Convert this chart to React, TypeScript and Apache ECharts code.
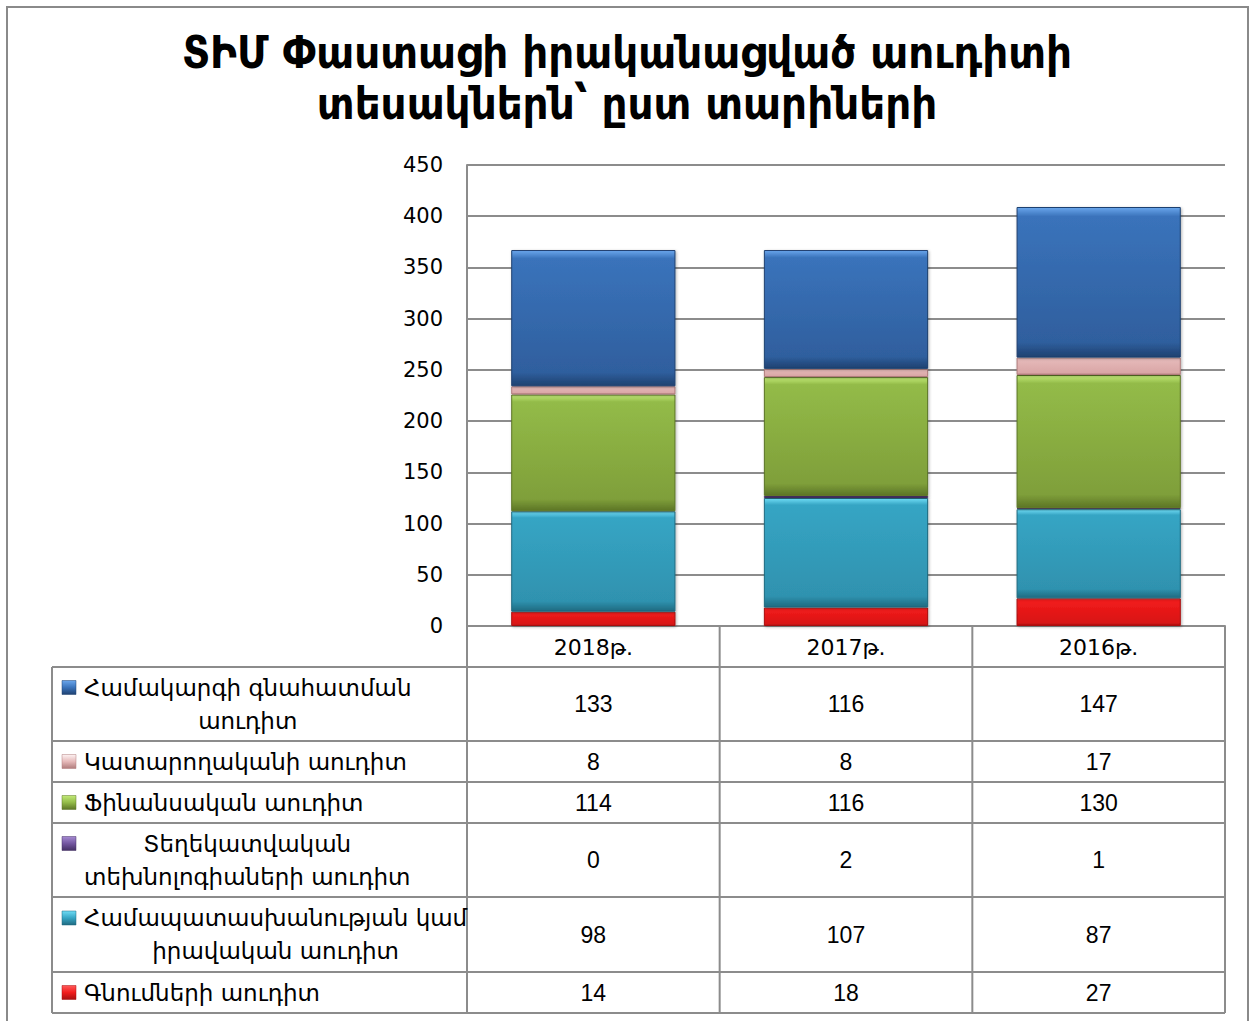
import React, { useEffect, useRef } from 'react';
import * as echarts from 'echarts';

// ---- data ----
const categories = ['2018թ.', '2017թ.', '2016թ.'];
const titleLines = ['ՏԻՄ Փաստացի իրականացված աուդիտի', 'տեսակներն՝ ըստ տարիների'];
const yMin = 0;
const yMax = 450;
const yStep = 50;

// stacked bottom -> top
const procurementName = ['Գնումների աուդիտ'];
const procurement = [14, 18, 27];
const complianceName = ['Համապատասխանության կամ', 'իրավական աուդիտ'];
const compliance = [98, 107, 87];
const itName = ['Տեղեկատվական', 'տեխնոլոգիաների աուդիտ'];
const itAudit = [0, 2, 1];
const financialName = ['Ֆինանսական աուդիտ'];
const financial = [114, 116, 130];
const performanceName = ['Կատարողականի աուդիտ'];
const performance = [8, 8, 17];
const systemName = ['Համակարգի գնահատման', 'աուդիտ'];
const systemEval = [133, 116, 147];

const seriesDefs = [
  { lines: procurementName, data: procurement, c: ['#ff5a5a', '#f21c1c', '#d81414', '#a80f0f'] },
  { lines: complianceName, data: compliance, c: ['#6fdcf5', '#36a5c4', '#2f92af', '#1f6a80'] },
  { lines: itName, data: itAudit, c: ['#a58ad2', '#7356a0', '#634a8c', '#443064'] },
  { lines: financialName, data: financial, c: ['#c2ea78', '#93bb48', '#7f9f3a', '#5c7526'] },
  { lines: performanceName, data: performance, c: ['#fdf3f3', '#e6baba', '#d9a6a6', '#b07c7c'] },
  { lines: systemName, data: systemEval, c: ['#6aa6ec', '#3a73bb', '#2f5f9e', '#1f4170'] },
];

// ---- layout ----
const W = 1254;
const H = 1021;
const gridLeft = 467;
const gridRight = 1225;
const gridTop = 165;
const axisY = 626;
const headerBottom = 667;
const tableLeft = 52;
const rowEdges = [667, 741, 782, 823, 897, 972, 1013];
const lineColor = '#8c8c8c';
const labelFont = '"DejaVu Sans", sans-serif';
const labelSize = 23;
const numFont = '"Liberation Sans Narrow", "Liberation Sans", sans-serif';

function grad(c: string[]) {
  return {
    type: 'linear', x: 0, y: 0, x2: 0, y2: 1,
    colorStops: [
      { offset: 0, color: c[0] },
      { offset: 0.06, color: c[1] },
      { offset: 0.9, color: c[2] },
      { offset: 1, color: c[3] },
    ],
  };
}

export default function App() {
  const ref = useRef<HTMLDivElement>(null);
  useEffect(() => {
    document.body.style.margin = '0';
    if (!ref.current) return;
    const chart = echarts.init(ref.current, undefined, { renderer: 'svg' });

    const canvas = document.createElement('canvas');
    const ctx = canvas.getContext('2d')!;
    ctx.font = `${labelSize}px ${labelFont}`;

    const colW = (gridRight - gridLeft) / categories.length;
    const graphics: any[] = [];
    // outer frame
    graphics.push({
      type: 'rect', shape: { x: 7, y: 7, width: 1241, height: 1040 },
      style: { fill: 'none', stroke: '#8a8a8a', lineWidth: 2 }, z: 1,
    });
    const ln = (x1: number, y1: number, x2: number, y2: number) => graphics.push({
      type: 'line', shape: { x1, y1, x2, y2 },
      style: { stroke: lineColor, lineWidth: 2 }, z: 5,
    });
    for (let i = 0; i <= categories.length; i++) {
      const x = gridLeft + i * colW;
      ln(x, axisY, x, rowEdges[rowEdges.length - 1]);
    }
    ln(tableLeft, headerBottom, tableLeft, rowEdges[rowEdges.length - 1]);
    rowEdges.forEach((y) => ln(tableLeft, y, gridRight, y));

    const rows = [...seriesDefs].reverse();
    rows.forEach((s, r) => {
      const y0 = rowEdges[r];
      const y1 = rowEdges[r + 1];
      const cy = (y0 + y1) / 2;
      const lh = 33;
      const firstY = cy - ((s.lines.length - 1) * lh) / 2;
      graphics.push({
        type: 'rect', shape: { x: 62, y: firstY - 7, width: 14, height: 14 },
        style: {
          fill: {
            type: 'linear', x: 0, y: 0, x2: 0, y2: 1,
            colorStops: [
              { offset: 0, color: s.c[0] },
              { offset: 0.5, color: s.c[1] },
              { offset: 1, color: s.c[3] },
            ],
          },
          stroke: s.c[3], lineWidth: 0.5,
        }, z: 6,
      });
      const maxW = Math.max(...s.lines.map((l) => ctx.measureText(l).width));
      graphics.push({
        type: 'text', x: 84 + maxW / 2, y: cy, z: 6,
        style: {
          text: s.lines.join('\n'), align: 'center', verticalAlign: 'middle',
          font: `${labelSize}px ${labelFont}`, lineHeight: lh, fill: '#000',
        },
      });
      s.data.forEach((v, i) => {
        graphics.push({
          type: 'text', x: gridLeft + (i + 0.5) * colW, y: cy, z: 6,
          style: {
            text: String(v), align: 'center', verticalAlign: 'middle',
            font: `23px ${numFont}`, fill: '#000',
          },
        });
      });
    });

    const option: any = {
      animation: false,
      backgroundColor: '#fff',
      title: {
        text: titleLines.join('\n'),
        left: 'center', top: 22,
        textStyle: {
          fontFamily: '"DejaVu Sans Condensed", "DejaVu Sans", sans-serif',
          fontWeight: 'bold', fontSize: 45, lineHeight: 51, color: '#000',
        },
      },
      grid: { left: gridLeft, right: W - gridRight, top: gridTop, bottom: H - axisY },
      xAxis: {
        type: 'category', data: categories,
        axisLine: { lineStyle: { color: lineColor, width: 2 } },
        axisTick: { show: false },
        axisLabel: { fontFamily: labelFont, fontSize: 22, color: '#000', margin: 10 },
      },
      yAxis: {
        type: 'value', min: yMin, max: yMax, interval: yStep,
        axisLine: { show: true, lineStyle: { color: lineColor, width: 2 } },
        axisTick: { show: false },
        splitLine: { lineStyle: { color: lineColor, width: 2 } },
        axisLabel: { fontFamily: labelFont, fontSize: 21, color: '#000', margin: 24 },
      },
      series: seriesDefs.map((s) => ({
        type: 'bar', name: s.lines.join(' '), stack: 'total', data: s.data,
        barWidth: '65%',
        itemStyle: {
          color: grad(s.c), borderColor: s.c[3], borderWidth: 1,
          shadowColor: 'rgba(0,0,0,0.3)', shadowBlur: 3, shadowOffsetX: 1, shadowOffsetY: 1,
        },
      })),
      graphic: graphics,
    };
    chart.setOption(option);
    return () => chart.dispose();
  }, []);
  return <div ref={ref} style={{ width: W, height: H }} />;
}
